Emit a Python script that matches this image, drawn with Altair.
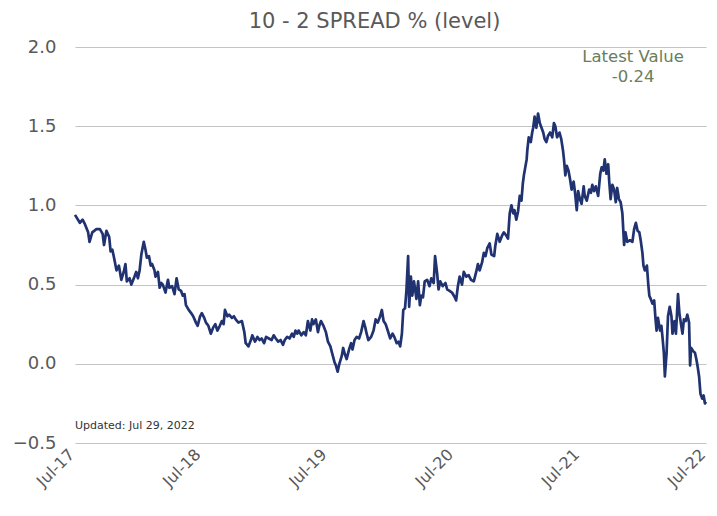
import altair as alt
import pandas as pd

dates = [
"2017-07-29","2017-08-12","2017-08-20","2017-08-27","2017-09-05","2017-09-09","2017-09-17","2017-09-29",
"2017-10-09","2017-10-17","2017-10-21","2017-10-28","2017-11-05","2017-11-09","2017-11-14","2017-11-19",
"2017-11-26","2017-12-03","2017-12-10","2017-12-17","2017-12-22","2017-12-26","2018-01-03","2018-01-08",
"2018-01-17","2018-01-22","2018-01-27","2018-02-01","2018-02-06","2018-02-13","2018-02-18","2018-02-22",
"2018-02-28","2018-03-05","2018-03-09","2018-03-16","2018-03-19","2018-03-26","2018-03-31","2018-04-05",
"2018-04-09","2018-04-17","2018-04-24","2018-04-28","2018-05-06","2018-05-13","2018-05-19","2018-05-25",
"2018-06-01","2018-06-06","2018-06-11","2018-06-15","2018-06-23","2018-06-30","2018-07-06","2018-07-14",
"2018-07-19","2018-07-26","2018-07-31","2018-08-07","2018-08-12","2018-08-19","2018-08-26","2018-09-02",
"2018-09-08","2018-09-14","2018-09-21","2018-09-27","2018-10-02","2018-10-06","2018-10-13","2018-10-18",
"2018-10-26","2018-11-01","2018-11-06","2018-11-14","2018-11-24","2018-12-01","2018-12-05","2018-12-13",
"2018-12-20","2018-12-24","2019-01-01","2019-01-08","2019-01-14","2019-01-20","2019-01-27","2019-02-02",
"2019-02-10","2019-02-18","2019-02-24","2019-03-02","2019-03-09","2019-03-16","2019-03-23","2019-03-28",
"2019-04-04","2019-04-11","2019-04-18","2019-04-23","2019-04-28","2019-05-03","2019-05-07","2019-05-15",
"2019-05-22","2019-05-28","2019-06-03","2019-06-10","2019-06-15","2019-06-19","2019-06-26","2019-07-02",
"2019-07-06","2019-07-11","2019-07-18","2019-07-25","2019-07-31","2019-08-07","2019-08-13","2019-08-19",
"2019-08-23","2019-08-28","2019-09-02","2019-09-09","2019-09-13","2019-09-18","2019-09-23","2019-09-30",
"2019-10-06","2019-10-10","2019-10-16","2019-10-22","2019-10-29","2019-11-04","2019-11-11","2019-11-16",
"2019-11-20","2019-11-25","2019-12-03","2019-12-10","2019-12-16","2019-12-22","2019-12-29","2020-01-03",
"2020-01-08","2020-01-14","2020-01-20","2020-01-27","2020-02-03","2020-02-08","2020-02-15","2020-02-20",
"2020-02-25","2020-03-01","2020-03-05","2020-03-10","2020-03-14","2020-03-19","2020-03-22","2020-03-27",
"2020-03-31","2020-04-05","2020-04-12","2020-04-17","2020-04-22","2020-04-26","2020-05-01","2020-05-06",
"2020-05-13","2020-05-20","2020-05-25","2020-06-01","2020-06-05","2020-06-11","2020-06-15","2020-06-20",
"2020-06-27","2020-07-05","2020-07-10","2020-07-17","2020-07-24","2020-08-01","2020-08-05","2020-08-10",
"2020-08-15","2020-08-22","2020-08-27","2020-09-03","2020-09-10","2020-09-17","2020-09-25","2020-10-02",
"2020-10-07","2020-10-12","2020-10-19","2020-10-24","2020-10-29","2020-11-03","2020-11-10","2020-11-15",
"2020-11-23","2020-11-26","2020-12-02","2020-12-09","2020-12-16","2020-12-21","2020-12-28","2021-01-02",
"2021-01-07","2021-01-12","2021-01-17","2021-01-21","2021-01-26","2021-01-31","2021-02-05","2021-02-10",
"2021-02-14","2021-02-17","2021-02-21","2021-02-25","2021-02-27","2021-03-03","2021-03-09","2021-03-13",
"2021-03-16","2021-03-20","2021-03-25","2021-03-30","2021-04-04","2021-04-09","2021-04-14","2021-04-18",
"2021-04-23","2021-04-28","2021-05-04","2021-05-10","2021-05-15","2021-05-19","2021-05-24","2021-05-31",
"2021-06-05","2021-06-10","2021-06-13","2021-06-17","2021-06-21","2021-06-26","2021-07-01","2021-07-05",
"2021-07-11","2021-07-15","2021-07-20","2021-07-24","2021-07-29","2021-08-03","2021-08-09","2021-08-12",
"2021-08-18","2021-08-25","2021-08-30","2021-09-03","2021-09-08","2021-09-13","2021-09-20","2021-09-26",
"2021-09-30","2021-10-05","2021-10-09","2021-10-14","2021-10-19","2021-10-22","2021-10-26","2021-10-31",
"2021-11-05","2021-11-10","2021-11-14","2021-11-19","2021-11-24","2021-11-29","2021-12-02","2021-12-04",
"2021-12-08","2021-12-13","2021-12-21","2021-12-28","2022-01-02","2022-01-07","2022-01-12","2022-01-17",
"2022-01-21","2022-01-26","2022-01-29","2022-02-02","2022-02-08","2022-02-12","2022-02-15","2022-02-19",
"2022-02-24","2022-03-01","2022-03-05","2022-03-08","2022-03-12","2022-03-18","2022-03-22","2022-03-25",
"2022-03-29","2022-04-01","2022-04-06","2022-04-10","2022-04-15","2022-04-20","2022-04-23","2022-04-29",
"2022-05-03","2022-05-09","2022-05-13","2022-05-17","2022-05-22","2022-05-26","2022-05-31","2022-06-05",
"2022-06-10","2022-06-13","2022-06-16","2022-06-22","2022-06-27","2022-07-01","2022-07-05","2022-07-09",
"2022-07-13","2022-07-18","2022-07-22","2022-07-26","2022-07-29",
]

spread = [
0.94,0.89,0.91,0.88,0.83,0.77,0.83,0.85,
0.85,0.82,0.75,0.84,0.80,0.71,0.72,0.67,
0.59,0.62,0.53,0.58,0.63,0.52,0.54,0.50,
0.55,0.58,0.54,0.59,0.69,0.77,0.72,0.67,
0.68,0.62,0.63,0.59,0.55,0.58,0.48,0.51,
0.50,0.45,0.53,0.48,0.49,0.44,0.54,0.47,
0.46,0.43,0.44,0.37,0.34,0.32,0.30,0.26,
0.24,0.30,0.32,0.29,0.26,0.24,0.19,0.23,
0.25,0.21,0.24,0.27,0.25,0.34,0.30,0.31,
0.29,0.30,0.28,0.26,0.27,0.20,0.13,0.11,
0.15,0.18,0.14,0.17,0.15,0.16,0.13,0.17,
0.16,0.15,0.18,0.16,0.14,0.15,0.12,0.15,
0.17,0.16,0.19,0.17,0.21,0.19,0.21,0.18,
0.20,0.18,0.27,0.21,0.28,0.25,0.28,0.20,
0.24,0.27,0.24,0.20,0.14,0.11,0.06,0.01,
-0.01,-0.05,0.00,0.05,0.10,0.06,0.03,0.09,
0.13,0.09,0.15,0.17,0.16,0.20,0.27,0.23,
0.19,0.15,0.17,0.21,0.28,0.26,0.30,0.34,
0.27,0.25,0.21,0.16,0.19,0.17,0.13,0.14,
0.11,0.19,0.34,0.35,0.46,0.68,0.36,0.55,
0.43,0.52,0.41,0.52,0.37,0.43,0.42,0.52,
0.53,0.49,0.54,0.51,0.68,0.57,0.47,0.52,
0.49,0.51,0.47,0.46,0.45,0.42,0.40,0.49,
0.55,0.50,0.58,0.55,0.56,0.53,0.52,0.58,
0.63,0.59,0.64,0.70,0.68,0.73,0.76,0.69,
0.68,0.74,0.82,0.77,0.81,0.83,0.81,0.79,
0.95,1.00,0.95,0.97,0.91,0.96,1.06,1.03,
1.14,1.19,1.24,1.29,1.35,1.43,1.40,1.46,
1.49,1.56,1.49,1.58,1.52,1.49,1.46,1.42,
1.40,1.44,1.46,1.43,1.52,1.50,1.43,1.46,
1.42,1.35,1.29,1.19,1.25,1.22,1.16,1.10,
1.15,1.08,0.97,1.09,1.04,1.01,1.12,1.06,
1.03,1.10,1.08,1.13,1.09,1.12,1.06,1.20,
1.24,1.22,1.29,1.20,1.26,1.15,1.04,1.13,
1.10,1.02,1.11,1.04,1.02,0.95,0.83,0.75,
0.83,0.77,0.78,0.77,0.85,0.89,0.84,0.83,
0.78,0.70,0.62,0.59,0.62,0.50,0.43,0.41,
0.38,0.40,0.28,0.21,0.29,0.21,0.24,0.17,
0.07,-0.08,0.07,0.30,0.36,0.30,0.19,0.27,
0.19,0.44,0.32,0.26,0.19,0.28,0.27,0.31,
0.26,-0.01,0.10,0.08,0.07,0.03,-0.02,-0.08,
-0.19,-0.22,-0.20,-0.25,-0.24,
]

tick_dates = ["2017-07-29","2018-07-29","2019-07-29","2020-07-29","2021-07-29","2022-07-29"]
y_ticks = [-0.5, 0.0, 0.5, 1.0, 1.5, 2.0]

title_text = "10 - 2 SPREAD % (level)"
latest_lines = ["Latest Value", "-0.24"]
latest_pos_date = "2021-12-30"
latest_pos_y = [1.94, 1.81]
updated_text = "Updated: Jul 29, 2022"
updated_pos = ("2017-07-29", -0.39)

df = pd.DataFrame({"date": pd.to_datetime(dates), "spread": spread})

FONT = "DejaVu Sans"
GRAY = "#595959"

x_scale = alt.Scale(domain=[pd.Timestamp(tick_dates[0]).isoformat(), pd.Timestamp(tick_dates[-1]).isoformat()])
y_scale = alt.Scale(domain=[-0.5, 2.0], nice=False)

line = alt.Chart(df).mark_line(color="#203270", strokeWidth=2.7, strokeJoin="round").encode(
    x=alt.X("date:T", scale=x_scale,
            axis=alt.Axis(values=[pd.Timestamp(d).isoformat() for d in tick_dates], format="%b-%y",
                          labelAngle=-45, labelAlign="right", labelBaseline="alphabetic",
                          labelFontSize=16, labelColor=GRAY, labelFont=FONT,
                          grid=False, ticks=False, domain=False, labelPadding=12, title=None)),
    y=alt.Y("spread:Q", scale=y_scale,
            axis=alt.Axis(values=y_ticks, format=".1f", labelFontSize=18, labelColor=GRAY, labelFont=FONT,
                          grid=True, gridColor="#c4c4c4", gridWidth=1.2, ticks=False, domain=False,
                          labelPadding=19, title=None)),
)

latest_df = pd.DataFrame({"date": pd.to_datetime([latest_pos_date] * 2), "y": latest_pos_y, "t": latest_lines})
latest = alt.Chart(latest_df).mark_text(font=FONT, fontSize=16.5, color="#6a7d5c", baseline="middle", align="center").encode(
    x=alt.X("date:T", scale=x_scale), y=alt.Y("y:Q", scale=y_scale), text="t:N")

upd_df = pd.DataFrame({"date": pd.to_datetime([updated_pos[0]]), "y": [updated_pos[1]], "t": [updated_text]})
updated = alt.Chart(upd_df).mark_text(font=FONT, fontSize=11, color="#333333", baseline="middle", align="left").encode(
    x=alt.X("date:T", scale=x_scale), y=alt.Y("y:Q", scale=y_scale), text="t:N")

chart = alt.layer(line, latest, updated).properties(
    width=631, height=396,
    title=alt.TitleParams(title_text, font=FONT, fontSize=21, fontWeight="normal", color=GRAY,
                          anchor="middle", dx=-16, offset=6),
    autosize=alt.AutoSizeParams(type="none"),
    padding={"left": 67, "top": 39, "right": 3, "bottom": 65},
).configure_view(stroke=None)

chart.save("out.html", embed_options={"renderer": "svg", "actions": False})
